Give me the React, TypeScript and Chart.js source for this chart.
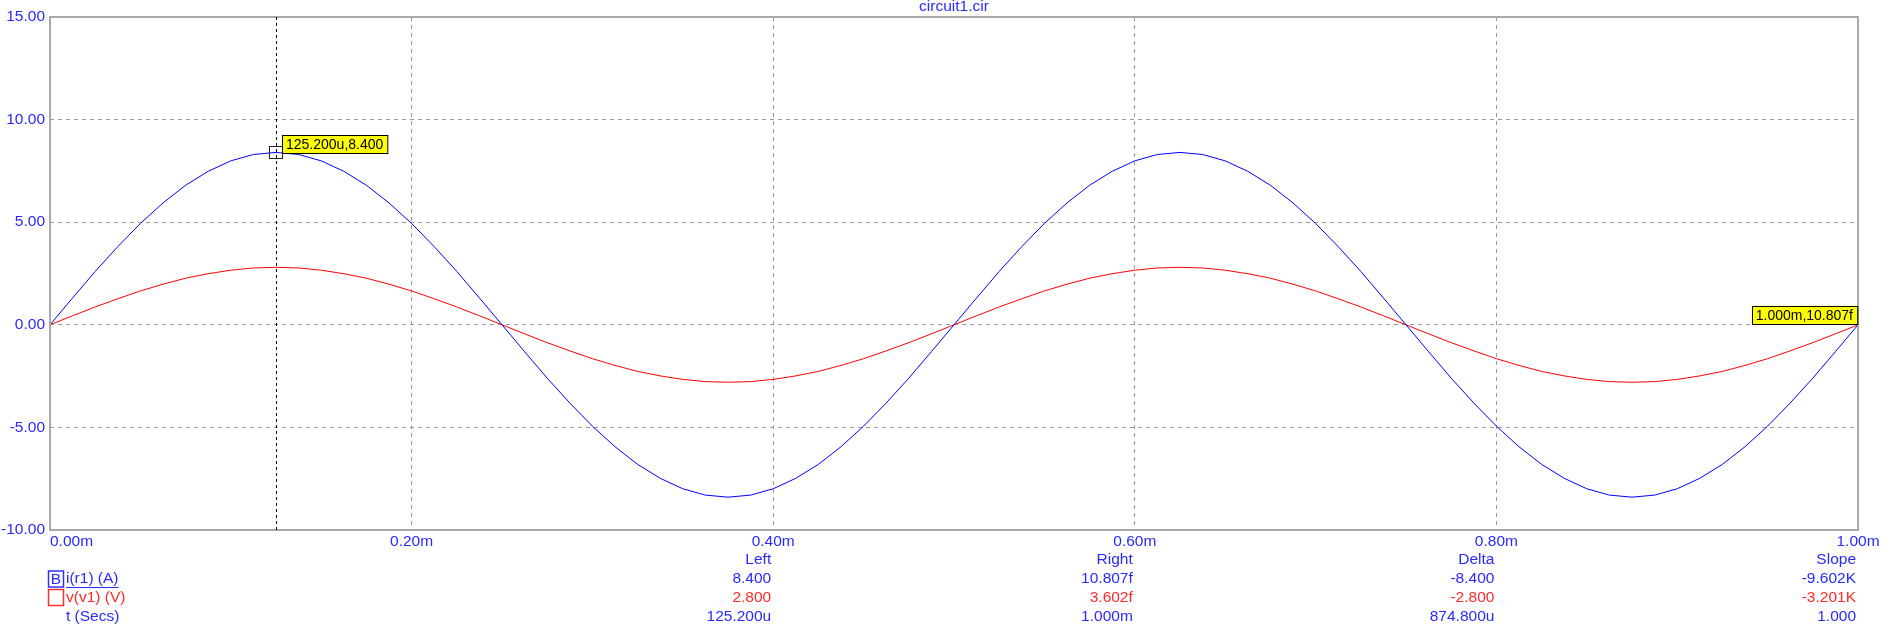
import React, { useEffect, useRef } from "react";
import { Chart, registerables } from "chart.js";

Chart.register(...registerables);

const FONT = '"Liberation Sans", Arial, sans-serif';
const BLUE_TEXT = "#2a2aff";
const RED_TEXT = "#ff2a2a";

const TITLE = "circuit1.cir";

// time in ms
const timeMs = [
  0, 0.0125, 0.025, 0.0375, 0.05, 0.0625, 0.075, 0.0875, 0.1, 0.1125, 0.125,
  0.1375, 0.15, 0.1625, 0.175, 0.1875, 0.2, 0.2125, 0.225, 0.2375, 0.25,
  0.2625, 0.275, 0.2875, 0.3, 0.3125, 0.325, 0.3375, 0.35, 0.3625, 0.375,
  0.3875, 0.4, 0.4125, 0.425, 0.4375, 0.45, 0.4625, 0.475, 0.4875, 0.5,
  0.5125, 0.525, 0.5375, 0.55, 0.5625, 0.575, 0.5875, 0.6, 0.6125, 0.625,
  0.6375, 0.65, 0.6625, 0.675, 0.6875, 0.7, 0.7125, 0.725, 0.7375, 0.75,
  0.7625, 0.775, 0.7875, 0.8, 0.8125, 0.825, 0.8375, 0.85, 0.8625, 0.875,
  0.8875, 0.9, 0.9125, 0.925, 0.9375, 0.95, 0.9625, 0.975, 0.9875, 1.0,
];

// i(r1) (A)
const currentR1 = [
  0, 1.31, 2.6, 3.81, 4.94, 5.94, 6.8, 7.48, 7.99, 8.3, 8.4,
  8.3, 7.99, 7.48, 6.8, 5.94, 4.94, 3.81, 2.6, 1.31, 0,
  -1.31, -2.6, -3.81, -4.94, -5.94, -6.8, -7.48, -7.99, -8.3, -8.4,
  -8.3, -7.99, -7.48, -6.8, -5.94, -4.94, -3.81, -2.6, -1.31, 0,
  1.31, 2.6, 3.81, 4.94, 5.94, 6.8, 7.48, 7.99, 8.3, 8.4,
  8.3, 7.99, 7.48, 6.8, 5.94, 4.94, 3.81, 2.6, 1.31, 0,
  -1.31, -2.6, -3.81, -4.94, -5.94, -6.8, -7.48, -7.99, -8.3, -8.4,
  -8.3, -7.99, -7.48, -6.8, -5.94, -4.94, -3.81, -2.6, -1.31, 0,
];

// v(v1) (V)
const voltageV1 = [
  0, 0.44, 0.87, 1.27, 1.65, 1.98, 2.27, 2.49, 2.66, 2.77, 2.8,
  2.77, 2.66, 2.49, 2.27, 1.98, 1.65, 1.27, 0.87, 0.44, 0,
  -0.44, -0.87, -1.27, -1.65, -1.98, -2.27, -2.49, -2.66, -2.77, -2.8,
  -2.77, -2.66, -2.49, -2.27, -1.98, -1.65, -1.27, -0.87, -0.44, 0,
  0.44, 0.87, 1.27, 1.65, 1.98, 2.27, 2.49, 2.66, 2.77, 2.8,
  2.77, 2.66, 2.49, 2.27, 1.98, 1.65, 1.27, 0.87, 0.44, 0,
  -0.44, -0.87, -1.27, -1.65, -1.98, -2.27, -2.49, -2.66, -2.77, -2.8,
  -2.77, -2.66, -2.49, -2.27, -1.98, -1.65, -1.27, -0.87, -0.44, 0,
];

const xTicks = [0, 0.2, 0.4, 0.6, 0.8, 1.0];
const xTickLabels = ["0.00m", "0.20m", "0.40m", "0.60m", "0.80m", "1.00m"];
const yTicks = [-10, -5, 0, 5, 10, 15];
const yTickLabels = ["-10.00", "-5.00", "0.00", "5.00", "10.00", "15.00"];

const cursorLeftT = 0.1252;
const cursorLeftV = 8.4;
const cursorLeftLabel = "125.200u,8.400";
const cursorRightT = 1.0;
const cursorRightV = 10.807e-15;
const cursorRightLabel = "1.000m,10.807f";

const tableHeaders = ["Left", "Right", "Delta", "Slope"];
const tableColumnsAt = [0.4, 0.6, 0.8, 1.0];
const rowI = ["8.400", "10.807f", "-8.400", "-9.602K"];
const rowV = ["2.800", "3.602f", "-2.800", "-3.201K"];
const rowT = ["125.200u", "1.000m", "874.800u", "1.000"];
const legendNames = ["i(r1) (A)", "v(v1) (V)", "t (Secs)"];

const overlayPlugin = {
  id: "overlay",
  afterDatasetsDraw(chart: any) {
    const ctx = chart.ctx as CanvasRenderingContext2D;
    const ca = chart.chartArea;
    const xs = chart.scales.x;
    const ys = chart.scales.y;
    ctx.save();

    // frame
    ctx.strokeStyle = "#a8a8a8";
    ctx.lineWidth = 2;
    ctx.setLineDash([]);
    ctx.strokeRect(ca.left, ca.top, ca.right - ca.left, ca.bottom - ca.top);

    // title
    ctx.font = `15.5px ${FONT}`;
    ctx.fillStyle = BLUE_TEXT;
    ctx.textAlign = "center";
    ctx.textBaseline = "middle";
    ctx.fillText(TITLE, (ca.left + ca.right) / 2, 7);

    // y tick labels
    ctx.textAlign = "right";
    yTicks.forEach((v, i) => {
      ctx.fillText(yTickLabels[i], ca.left - 5, ys.getPixelForValue(v));
    });

    // x tick labels
    xTicks.forEach((v, i) => {
      const px = xs.getPixelForValue(v);
      ctx.textAlign = i === 0 ? "left" : "center";
      ctx.fillText(xTickLabels[i], px, ca.bottom + 12);
    });

    // cursor line
    const cx = xs.getPixelForValue(cursorLeftT);
    const cy = ys.getPixelForValue(cursorLeftV);
    ctx.strokeStyle = "#000";
    ctx.lineWidth = 1;
    ctx.setLineDash([3, 3]);
    ctx.beginPath();
    ctx.moveTo(Math.round(cx) + 0.5, ca.top);
    ctx.lineTo(Math.round(cx) + 0.5, ca.bottom);
    ctx.stroke();
    ctx.setLineDash([]);

    // marker square
    ctx.strokeStyle = "#222";
    ctx.strokeRect(Math.round(cx) - 6.5, Math.round(cy) - 5.5, 13, 12);

    // labels
    ctx.font = `14px ${FONT}`;
    ctx.textAlign = "left";
    const drawLabel = (text: string, left: number, bottom: number) => {
      const w = ctx.measureText(text).width + 8;
      const h = 18;
      ctx.fillStyle = "#ffff00";
      ctx.fillRect(left, bottom - h, w, h);
      ctx.strokeStyle = "#000";
      ctx.lineWidth = 1;
      ctx.strokeRect(Math.round(left) + 0.5, Math.round(bottom - h) + 0.5, w, h);
      ctx.fillStyle = "#000";
      ctx.fillText(text, left + 4, bottom - h / 2 + 1);
      return w;
    };
    drawLabel(cursorLeftLabel, Math.round(cx) + 6, Math.round(cy) + 1);
    const rx = xs.getPixelForValue(cursorRightT);
    const ry = ys.getPixelForValue(cursorRightV);
    const w2 = ctx.measureText(cursorRightLabel).width + 8;
    drawLabel(cursorRightLabel, rx - w2 - 1, ry - 1);

    // table
    ctx.font = `15.5px ${FONT}`;
    ctx.textAlign = "right";
    const rowsY = [ca.bottom + 30, ca.bottom + 49, ca.bottom + 67.5, ca.bottom + 87];
    tableColumnsAt.forEach((t, i) => {
      const px = xs.getPixelForValue(t) - 2;
      ctx.fillStyle = BLUE_TEXT;
      ctx.fillText(tableHeaders[i], px, rowsY[0]);
      ctx.fillText(rowI[i], px, rowsY[1]);
      ctx.fillStyle = RED_TEXT;
      ctx.fillText(rowV[i], px, rowsY[2]);
      ctx.fillStyle = BLUE_TEXT;
      ctx.fillText(rowT[i], px, rowsY[3]);
    });

    // legend
    ctx.textAlign = "left";
    const lx = ca.left - 1.5;
    ctx.lineWidth = 1.5;
    ctx.strokeStyle = "#3030ff";
    ctx.strokeRect(lx, rowsY[1] - 8, 15, 16);
    ctx.fillStyle = BLUE_TEXT;
    ctx.textAlign = "center";
    ctx.fillText("B", lx + 7.5, rowsY[1] + 0.5);
    ctx.textAlign = "left";
    ctx.fillText(legendNames[0], ca.left + 16, rowsY[1]);
    const uw = ctx.measureText(legendNames[0]).width;
    ctx.strokeStyle = BLUE_TEXT;
    ctx.lineWidth = 1;
    ctx.beginPath();
    ctx.moveTo(ca.left + 16, rowsY[1] + 8.5);
    ctx.lineTo(ca.left + 16 + uw, rowsY[1] + 8.5);
    ctx.stroke();

    ctx.lineWidth = 1.5;
    ctx.strokeStyle = "#ff3030";
    ctx.strokeRect(lx, rowsY[2] - 8, 15, 16);
    ctx.fillStyle = RED_TEXT;
    ctx.fillText(legendNames[1], ca.left + 16, rowsY[2]);
    ctx.fillStyle = BLUE_TEXT;
    ctx.fillText(legendNames[2], ca.left + 16, rowsY[3]);

    ctx.restore();
  },
};

export default function App() {
  const ref = useRef<HTMLCanvasElement | null>(null);
  useEffect(() => {
    document.body.style.margin = "0";
    if (!ref.current) return;
    const chart = new Chart(ref.current, {
      type: "line",
      data: {
        datasets: [
          {
            label: "i(r1) (A)",
            data: timeMs.map((t, i) => ({ x: t, y: currentR1[i] })),
            borderColor: "#0000ff",
            borderWidth: 1,
            pointRadius: 0,
            tension: 0,
          },
          {
            label: "v(v1) (V)",
            data: timeMs.map((t, i) => ({ x: t, y: voltageV1[i] })),
            borderColor: "#ff0000",
            borderWidth: 1,
            pointRadius: 0,
            tension: 0,
          },
        ],
      },
      options: {
        responsive: false,
        animation: false,
        devicePixelRatio: 1,
        layout: { padding: { left: 50, top: 17, right: 37, bottom: 100 } },
        plugins: { legend: { display: false }, tooltip: { enabled: false }, title: { display: false } },
        scales: {
          x: {
            type: "linear",
            min: 0,
            max: 1,
            ticks: { display: false, stepSize: 0.2 },
            grid: { color: "#9a9a9a", lineWidth: 1, drawTicks: false },
            border: { display: false, dash: [4, 4] },
          },
          y: {
            type: "linear",
            min: -10,
            max: 15,
            ticks: { display: false, stepSize: 5 },
            grid: { color: "#9a9a9a", lineWidth: 1, drawTicks: false },
            border: { display: false, dash: [4, 4] },
          },
        },
      },
      plugins: [overlayPlugin],
    });
    return () => chart.destroy();
  }, []);
  return (
    <div style={{ position: "absolute", left: 0, top: 0, width: 1895, height: 630, background: "#fff" }}>
      <canvas ref={ref} width={1895} height={630} style={{ display: "block", width: 1895, height: 630 }} />
    </div>
  );
}
